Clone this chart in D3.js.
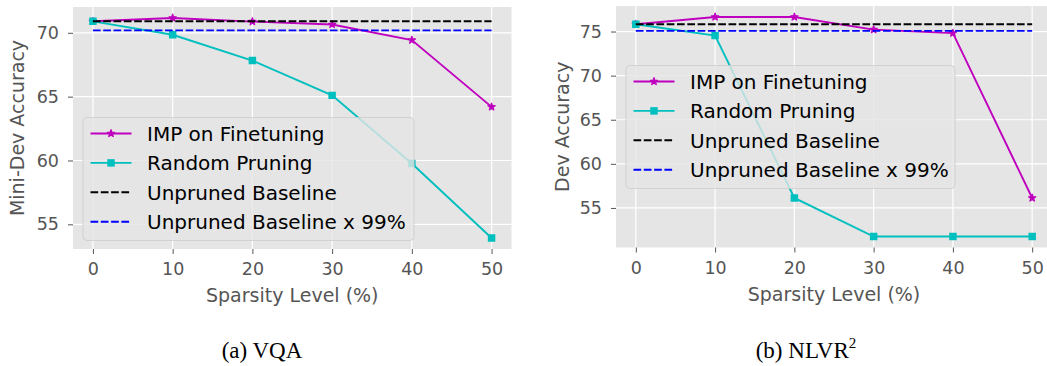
<!DOCTYPE html>
<html>
<head>
<meta charset="utf-8">
<script src="https://cdn.jsdelivr.net/npm/d3@7"></script>
<style>
  html, body { margin: 0; padding: 0; background: #ffffff; }
  svg { display: block; }
  text { font-family: "DejaVu Sans", sans-serif; }
  .caption { font-family: "Liberation Serif", "Times New Roman", serif; }
</style>
</head>
<body>
<svg id="fig" width="1047" height="366"></svg>
<script>
// Sparsity levels (x values) and axis ticks
const sparsity = [0, 10, 20, 30, 40, 50];
const xTicks = [0, 10, 20, 30, 40, 50];

// (a) VQA: mini-dev accuracy
const vqaImp = [70.9, 71.16, 70.88, 70.65, 69.43, 64.2];
const vqaRandom = [70.9, 69.85, 67.83, 65.1, 59.77, 53.93];
const vqaBaseline = 70.9;
const vqaYTicks = [55, 60, 65, 70];

// (b) NLVR2: dev accuracy
const nlvrImp = [75.83, 76.65, 76.65, 75.22, 74.82, 56.13];
const nlvrRandom = [75.83, 74.55, 56.13, 51.76, 51.76, 51.76];
const nlvrBaseline = 75.83;
const nlvrYTicks = [55, 60, 65, 70, 75];

const keepRatio = 0.99;
const seriesNames = ["IMP on Finetuning", "Random Pruning", "Unpruned Baseline", "Unpruned Baseline x 99%"];

const C_IMP = "#bf00bf", C_RAND = "#00bfbf", C_BASE = "#000000", C_99 = "#0000ff";
const DASH = "7.7,2.6";
const LW = 1.9;

const svg = d3.select("#fig");

// padded extent, like matplotlib's default 5% margins
function padded(ext, frac) {
  const d = (ext[1] - ext[0]) * frac;
  return [ext[0] - d, ext[1] + d];
}

function panel(cfg) {
  const g = svg.append("g");
  const x = d3.scaleLinear().domain(padded(d3.extent(sparsity), 0.05)).range([cfg.left, cfg.right]);
  const allY = cfg.imp.concat(cfg.random, [cfg.baseline, cfg.baseline * keepRatio]);
  const y = d3.scaleLinear().domain(padded(d3.extent(allY), 0.05)).range([cfg.bottom, cfg.top]);

  // plot background
  g.append("rect")
    .attr("x", cfg.left).attr("y", cfg.top)
    .attr("width", cfg.right - cfg.left).attr("height", cfg.bottom - cfg.top)
    .attr("fill", "#e5e5e5");

  // grid
  g.append("g").selectAll("line").data(xTicks).join("line")
    .attr("x1", d => x(d)).attr("x2", d => x(d))
    .attr("y1", cfg.top).attr("y2", cfg.bottom)
    .attr("stroke", "#ffffff").attr("stroke-width", 1.2);
  g.append("g").selectAll("line").data(cfg.yTicks).join("line")
    .attr("x1", cfg.left).attr("x2", cfg.right)
    .attr("y1", d => y(d)).attr("y2", d => y(d))
    .attr("stroke", "#ffffff").attr("stroke-width", 1.2);

  // axes
  const xAxis = d3.axisBottom(x).tickValues(xTicks).tickSizeInner(5).tickSizeOuter(0).tickPadding(9);
  const yAxis = d3.axisLeft(y).tickValues(cfg.yTicks).tickSizeInner(5).tickSizeOuter(0).tickPadding(9);
  const gx = g.append("g").attr("transform", `translate(0,${cfg.bottom})`).call(xAxis);
  const gy = g.append("g").attr("transform", `translate(${cfg.left},0)`).call(yAxis);
  [gx, gy].forEach(a => {
    a.select(".domain").remove();
    a.selectAll(".tick line").attr("stroke", "#555555").attr("stroke-width", 1);
    a.selectAll(".tick text").attr("fill", "#555555")
      .style("font-family", "DejaVu Sans").style("font-size", "17.5px");
  });

  // axis labels
  g.append("text")
    .attr("x", (cfg.left + cfg.right) / 2).attr("y", cfg.bottom + 53)
    .attr("text-anchor", "middle").attr("fill", "#555555").style("font-size", "19px")
    .text("Sparsity Level (%)");
  g.append("text")
    .attr("transform", `translate(${cfg.yLabelX},${(cfg.top + cfg.bottom) / 2}) rotate(-90)`)
    .attr("text-anchor", "middle").attr("dy", "0.35em").attr("fill", "#555555").style("font-size", "19px")
    .text(cfg.yLabel);

  const clip = "clip-" + cfg.id;
  g.append("clipPath").attr("id", clip).append("rect")
    .attr("x", cfg.left).attr("y", cfg.top - 6)
    .attr("width", cfg.right - cfg.left).attr("height", cfg.bottom - cfg.top + 12);
  const plot = g.append("g").attr("clip-path", `url(#${clip})`);

  const line = d3.line().x((d, i) => x(sparsity[i])).y(d => y(d));
  const star = d3.symbol().type(d3.symbolStar).size(16);
  const square = d3.symbol().type(d3.symbolSquare).size(56);

  // IMP series
  plot.append("path").datum(cfg.imp).attr("d", line)
    .attr("fill", "none").attr("stroke", C_IMP).attr("stroke-width", LW);
  plot.append("g").selectAll("path").data(cfg.imp).join("path")
    .attr("d", star).attr("transform", (d, i) => `translate(${x(sparsity[i])},${y(d)})`)
    .attr("fill", C_IMP).attr("stroke", C_IMP).attr("stroke-width", 1.3).attr("stroke-linejoin", "round");

  // random pruning series
  plot.append("path").datum(cfg.random).attr("d", line)
    .attr("fill", "none").attr("stroke", C_RAND).attr("stroke-width", LW);
  plot.append("g").selectAll("path").data(cfg.random).join("path")
    .attr("d", square).attr("transform", (d, i) => `translate(${x(sparsity[i])},${y(d)})`)
    .attr("fill", C_RAND);

  // baselines
  const xs = d3.extent(sparsity);
  [[cfg.baseline, C_BASE], [cfg.baseline * keepRatio, C_99]].forEach(([v, c]) => {
    plot.append("line")
      .attr("x1", x(xs[0])).attr("x2", x(xs[1]))
      .attr("y1", y(v)).attr("y2", y(v))
      .attr("stroke", c).attr("stroke-width", LW).attr("stroke-dasharray", DASH);
  });

  // legend
  const L = cfg.legend;
  const lg = g.append("g").attr("transform", `translate(${L.x},${L.y})`);
  lg.append("rect").attr("width", L.w).attr("height", L.h).attr("rx", 4)
    .attr("fill", "rgba(229,229,229,0.8)").attr("stroke", "rgba(204,204,204,0.8)").attr("stroke-width", 1);
  const styles = [
    { c: C_IMP, dash: null, m: star },
    { c: C_RAND, dash: null, m: square },
    { c: C_BASE, dash: DASH, m: null },
    { c: C_99, dash: DASH, m: null }
  ];
  seriesNames.forEach((name, i) => {
    const cy = 16 + i * 29.4;
    const s = styles[i];
    lg.append("line").attr("x1", 7.5).attr("x2", 48.5).attr("y1", cy).attr("y2", cy)
      .attr("stroke", s.c).attr("stroke-width", LW).attr("stroke-dasharray", s.dash);
    if (s.m) {
      lg.append("path").attr("d", s.m).attr("transform", `translate(28,${cy})`)
        .attr("fill", s.c).attr("stroke", s.c).attr("stroke-width", s.m === star ? 1.3 : 0)
        .attr("stroke-linejoin", "round");
    }
    lg.append("text").attr("x", 64).attr("y", cy).attr("dy", "0.36em")
      .attr("fill", "#000000").style("font-size", "20px").text(name);
  });
}

panel({
  id: "vqa", left: 73, right: 511.5, top: 7, bottom: 249,
  imp: vqaImp, random: vqaRandom, baseline: vqaBaseline, yTicks: vqaYTicks,
  yLabel: "Mini-Dev Accuracy", yLabelX: 17,
  legend: { x: 83, y: 117.5, w: 331, h: 123 }
});
panel({
  id: "nlvr", left: 616, right: 1052, top: 6, bottom: 247.5,
  imp: nlvrImp, random: nlvrRandom, baseline: nlvrBaseline, yTicks: nlvrYTicks,
  yLabel: "Dev Accuracy", yLabelX: 562,
  legend: { x: 626, y: 65.5, w: 329, h: 123 }
});

// sub-figure captions
svg.append("text").attr("class", "caption")
  .attr("x", 262).attr("y", 358).attr("text-anchor", "middle")
  .attr("fill", "#000000").style("font-size", "23px").text("(a) VQA");
const capB = svg.append("text").attr("class", "caption")
  .attr("x", 806).attr("y", 358).attr("text-anchor", "middle")
  .attr("fill", "#000000").style("font-size", "23px");
capB.append("tspan").text("(b) NLVR");
capB.append("tspan").attr("dy", -10).style("font-size", "15px").text("2");
</script>
</body>
</html>
